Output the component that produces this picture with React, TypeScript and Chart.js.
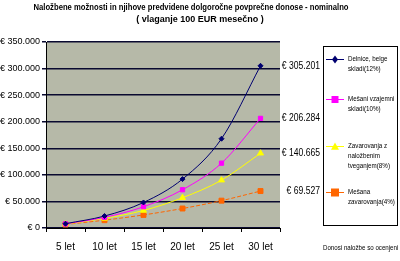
import React, { useEffect, useRef } from "react";
import { Chart, registerables } from "chart.js";

Chart.register(...registerables);

const categories = ["5 let", "10 let", "15 let", "20 let", "25 let", "30 let"];
const delnice = [8100, 22500, 48000, 92000, 168000, 305201];
const mesaniSkladi = [7700, 20000, 40000, 72000, 122000, 206284];
const nalozbeno = [7300, 18000, 33000, 57000, 90000, 140665];
const mesanaZav = [6630, 14725, 24609, 36677, 51413, 69527];
const seriesNames = [
  ["Delnice, belge", "skladi(12%)"],
  ["Mešani vzajemni", "skladi(10%)"],
  ["Zavarovanja z", "naložbenim", "tveganjem(8%)"],
  ["Mešana", "zavarovanja(4%)"],
];
const endLabels = ["€ 305.201", "€ 206.284", "€ 140.665", "€ 69.527"];
const titleLines = [
  "Naložbene možnosti in njihove predvidene dolgoročne povprečne donose - nominalno",
  "( vlaganje 100 EUR mesečno )",
];
const footNote = "Donosi naložbe so ocenjeni";

const FONT = "'Liberation Sans', Arial, sans-serif";
const colors = ["#000070", "#ff00ff", "#ffff00", "#ff6600"];
const pointStyles = ["rectRot", "rect", "triangle", "rect"];
const radii = [2.5, 3, 3.5, 3.5];

function fmt(v: number) {
  if (v === 0) return "€ 0";
  return "€ " + v.toLocaleString("de-DE");
}

function narrowText(ctx: CanvasRenderingContext2D, t: string, x: number, y: number, f: number) {
  const w = ctx.measureText(t).width;
  ctx.fillText(t, x, y, w * f);
}

function drawMarker(ctx: CanvasRenderingContext2D, style: string, x: number, y: number, r: number) {
  ctx.beginPath();
  if (style === "rect") {
    ctx.rect(x - r, y - r, 2 * r, 2 * r);
  } else if (style === "rectRot") {
    ctx.moveTo(x, y - r * 1.3);
    ctx.lineTo(x + r, y);
    ctx.lineTo(x, y + r * 1.3);
    ctx.lineTo(x - r, y);
    ctx.closePath();
  } else {
    ctx.moveTo(x, y - r);
    ctx.lineTo(x + r, y + r * 0.8);
    ctx.lineTo(x - r, y + r * 0.8);
    ctx.closePath();
  }
  ctx.fill();
}

const decorPlugin = {
  id: "decor",
  beforeDraw(chart: any) {
    const { ctx, chartArea } = chart;
    ctx.save();
    ctx.fillStyle = "#ffffff";
    ctx.fillRect(0, 0, chart.width, chart.height);
    ctx.fillStyle = "#b6b9a8";
    ctx.fillRect(chartArea.left, chartArea.top, chartArea.right - chartArea.left, chartArea.bottom - chartArea.top);
    ctx.restore();
  },
  afterDatasetsDraw(chart: any) {
    const { ctx } = chart;
    const y = chart.scales.y;
    ctx.save();
    // title
    ctx.fillStyle = "#000";
    ctx.textAlign = "center";
    ctx.textBaseline = "middle";
    ctx.font = "bold 9px " + FONT;
    ctx.fillText(titleLines[0], 191, 8, 315);
    ctx.fillText(titleLines[1], 200, 20, 134);
    // end labels
    ctx.font = "10px " + FONT;
    ctx.textAlign = "right";
    const sets = [delnice, mesaniSkladi, nalozbeno, mesanaZav];
    sets.forEach((s, i) => {
      narrowText(ctx, endLabels[i], 320, y.getPixelForValue(s[s.length - 1]), 0.86);
    });
    // legend
    ctx.fillStyle = "#fff";
    ctx.fillRect(323, 46, 74, 179);
    ctx.strokeStyle = "#000";
    ctx.lineWidth = 1;
    ctx.strokeRect(323.5, 46.5, 74, 179);
    const rows = [59, 99, 146, 192];
    ctx.font = "8px " + FONT;
    ctx.textAlign = "left";
    seriesNames.forEach((lines, i) => {
      const ry = rows[i];
      ctx.strokeStyle = colors[i];
      ctx.beginPath();
      ctx.moveTo(326, ry + 0.5);
      ctx.lineTo(344, ry + 0.5);
      ctx.stroke();
      ctx.fillStyle = colors[i];
      drawMarker(ctx, pointStyles[i], 335, ry + 0.5, radii[i] + 0.5);
      ctx.fillStyle = "#000";
      lines.forEach((t, j) => narrowText(ctx, t, 348, ry + j * 10, 0.78));
    });
    // foot note
    ctx.font = "8px " + FONT;
    narrowText(ctx, footNote, 323, 248, 0.77);
    ctx.restore();
  },
};

export default function App() {
  const ref = useRef<HTMLCanvasElement>(null);
  useEffect(() => {
    document.body.style.margin = "0";
    const sets = [delnice, mesaniSkladi, nalozbeno, mesanaZav];
    const chart = new Chart(ref.current!, {
      type: "line",
      data: {
        labels: categories,
        datasets: sets.map((d, i) => ({
          label: seriesNames[i].join(" "),
          data: d,
          borderColor: colors[i],
          backgroundColor: colors[i],
          borderWidth: 1,
          borderDash: i === 3 ? [4, 2] : [],
          pointStyle: pointStyles[i] as any,
          pointRadius: radii[i],
          pointBorderWidth: 1,
          tension: 0.35,
          cubicInterpolationMode: "monotone" as any,
        })),
      },
      options: {
        animation: false,
        responsive: false,
        layout: { padding: { left: 0, right: 120, top: 42, bottom: 0 } },
        plugins: { legend: { display: false }, title: { display: false }, tooltip: { enabled: false } },
        scales: {
          x: {
            offset: true,
            grid: { offset: true, drawOnChartArea: false, color: "#000", tickLength: 4, tickWidth: 1 } as any,
            border: { color: "#000", width: 1 },
            ticks: { color: "#000", font: { family: FONT, size: 10 }, padding: 9, maxRotation: 0 },
            afterFit: (s: any) => { s.height = 33; },
          },
          y: {
            min: 0,
            max: 350000,
            grid: { color: "#0a0a30", lineWidth: 1.5, tickLength: 4 },
            border: { color: "#000", width: 1 },
            ticks: { stepSize: 50000, color: "#000", font: { family: FONT, size: 9 }, padding: 2, callback: (v: any) => fmt(Number(v)) },
            afterFit: (s: any) => { s.width = 46; },
          },
        },
      },
      plugins: [decorPlugin],
    });
    return () => chart.destroy();
  }, []);
  return (
    <div style={{ width: 400, height: 261 }}>
      <canvas ref={ref} width={400} height={261} style={{ display: "block" }} />
    </div>
  );
}
